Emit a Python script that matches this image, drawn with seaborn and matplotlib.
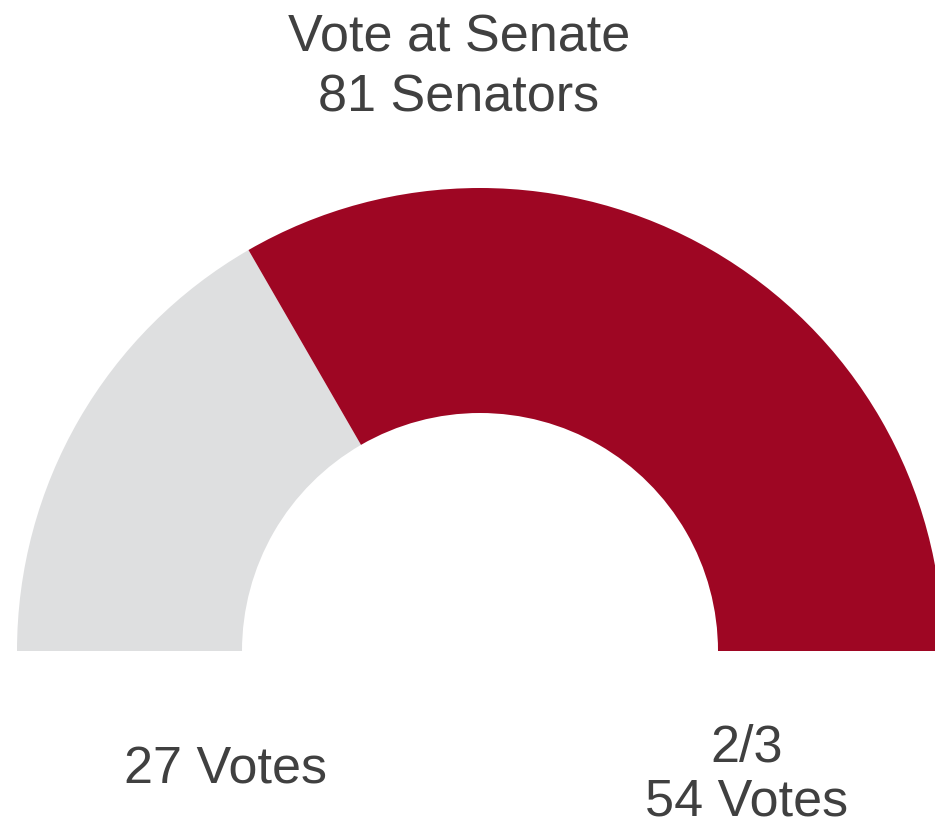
import matplotlib
matplotlib.use("Agg")
import matplotlib.pyplot as plt
import seaborn as sns

sns.set_theme(style="white")
plt.rcParams['font.family'] = ['Liberation Sans', 'DejaVu Sans']

# Data
categories = ["Against", "2/3 Majority"]
votes = [27, 54]
total = 81
title_lines = ["Vote at Senate", "81 Senators"]
left_label = "27 Votes"
right_label = ["2/3", "54 Votes"]

colors = ["#DEDFE0", "#9E0623"]
text_color = "#404040"

W, H = 935, 830
fig = plt.figure(figsize=(W / 100, H / 100), dpi=100)
ax = fig.add_axes([0, 0, 1, 1])

cx, cy = 480, H - 651
R, r = 463, 238
ax.pie(votes + [total], colors=colors + [(0, 0, 0, 0)], startangle=180,
       counterclock=False, radius=R, center=(cx, cy),
       wedgeprops=dict(width=R - r, edgecolor='none', linewidth=0))

ax.set_xlim(0, W)
ax.set_ylim(0, H)
ax.set_aspect('equal')
ax.axis('off')

fs = 37.5
ax.text(459, H - 52, title_lines[0], ha='center', va='baseline', fontsize=fs, color=text_color)
ax.text(459, H - 112, title_lines[1], ha='center', va='baseline', fontsize=fs, color=text_color)
ax.text(226, H - 783, left_label, ha='center', va='baseline', fontsize=fs, color=text_color)
ax.text(747, H - 762, right_label[0], ha='center', va='baseline', fontsize=fs, color=text_color)
ax.text(747, H - 815, right_label[1], ha='center', va='baseline', fontsize=fs, color=text_color)

fig.savefig("out.png", dpi=100)
